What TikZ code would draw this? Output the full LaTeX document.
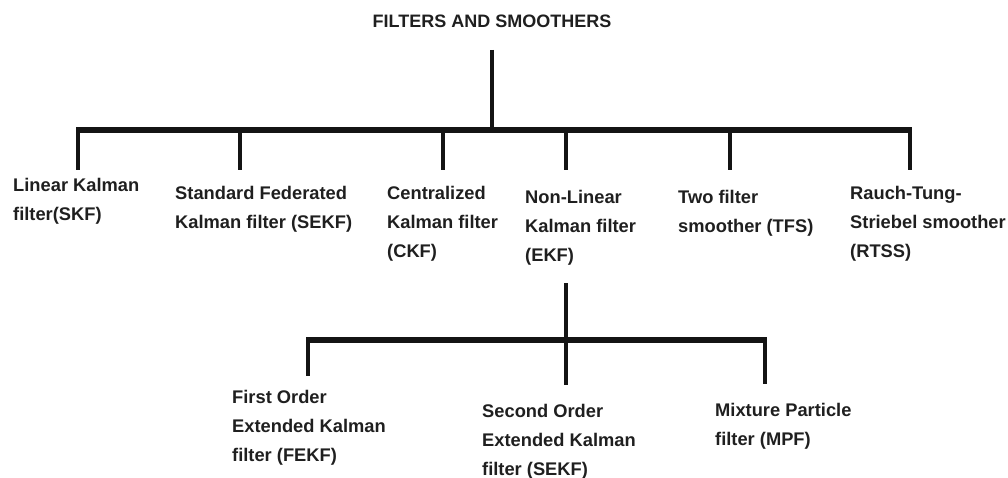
\documentclass[tikz,border=0pt]{standalone}
\usepackage{fontspec}
\setmainfont{Liberation Sans}
\begin{document}
\begin{tikzpicture}[x=1pt,y=-1pt,
  lbl/.style={anchor=north west, inner sep=0pt, align=left,
    font=\fontsize{18.3}{29}\selectfont\bfseries, text=black!88},
  barline/.style={line width=6pt, draw=black!92},
  dropline/.style={line width=4pt, draw=black!92}]
\useasboundingbox (0,0) rectangle (1008,478);

% title
\node[lbl, anchor=center, font=\fontsize{18}{22}\selectfont\bfseries] (root) at (492,21) {FILTERS AND SMOOTHERS};

% first level labels
\node[lbl] (skf)  at (13,178.3)  {Linear Kalman\\filter(SKF)};
\node[lbl] (sekf) at (175,186.3) {Standard Federated\\Kalman filter (SEKF)};
\node[lbl] (ckf)  at (387,186.3) {Centralized\\Kalman filter\\(CKF)};
\node[lbl] (ekf)  at (525,190.3) {Non-Linear\\Kalman filter\\(EKF)};
\node[lbl] (tfs)  at (678,190.3) {Two filter\\smoother (TFS)};
\node[lbl] (rtss) at (850,186.3) {Rauch-Tung-\\Striebel smoother\\(RTSS)};

% second level labels
\node[lbl] (fekf)  at (232,390.3) {First Order\\Extended Kalman\\filter (FEKF)};
\node[lbl] (sekf2) at (482,404.3) {Second Order\\Extended Kalman\\filter (SEKF)};
\node[lbl] (mpf)   at (715,403.3) {Mixture Particle\\filter (MPF)};

% connector coordinates
\coordinate (rtop) at (492,50);
\coordinate (rj)   at (492,130);
\coordinate (b1l)  at (76,130);
\coordinate (b1r)  at (912,130);
\foreach \n/\x in {1/78,2/240,3/443,4/566,5/730,6/910}{
  \coordinate (a\n) at (\x,130);
  \coordinate (e\n) at (\x,170);
}
\coordinate (ktop) at (566,283);
\coordinate (kj)   at (566,340);
\coordinate (kend) at (566,385);
\coordinate (b2l)  at (306,340);
\coordinate (b2r)  at (767,340);
\coordinate (c1) at (308,340);
\coordinate (f1) at (308,376);
\coordinate (c3) at (765,340);
\coordinate (f3) at (765,384);

% first level tree
\draw[dropline] (rtop) -- (rj);
\draw[barline] (b1l) -- (b1r);
\foreach \n in {1,...,6}{ \draw[dropline] (a\n) -- (e\n); }

% second level tree
\draw[dropline] (ktop) -- (kend);
\draw[barline] (b2l) -- (b2r);
\draw[dropline] (c1) -- (f1);
\draw[dropline] (c3) -- (f3);
\end{tikzpicture}
\end{document}
